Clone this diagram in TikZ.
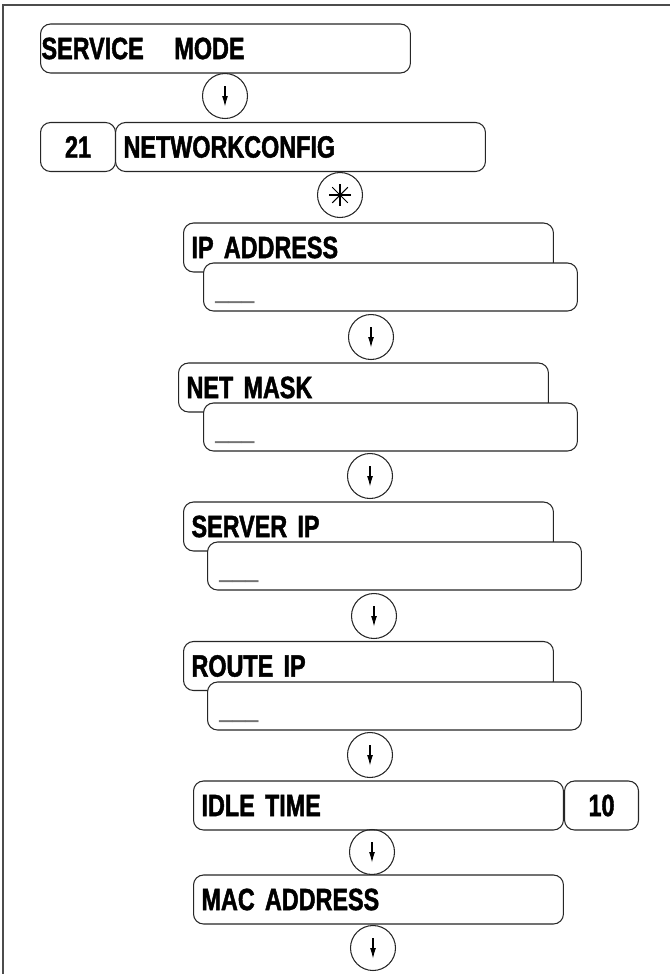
\documentclass[tikz,border=0pt]{standalone}
\usepackage{fontspec}
\setmainfont[FakeStretch=0.76,BoldFeatures={FakeBold=1.5}]{Liberation Sans}
\usetikzlibrary{arrows.meta}

\begin{document}
\begin{tikzpicture}[x=0.02cm,y=-0.02cm,
  every node/.style={font=\bfseries\fontsize{17.5pt}{20pt}\selectfont},
  title/.style={draw=black!85,line width=0.6pt,rounded corners=0.2cm,fill=white,anchor=west,align=left,
    inner xsep=0.16cm,inner ysep=0pt,text width=7.08cm,minimum height=0.98cm},
  valbox/.style={title,text width=7.16cm,minimum height=0.96cm},
  numbox/.style={draw=black!85,line width=0.6pt,rounded corners=0.2cm,fill=white,anchor=west,
    minimum width=1.5cm,minimum height=0.98cm,inner sep=0pt},
  key/.style={circle,draw=black!85,line width=0.6pt,minimum size=0.9cm,inner sep=0pt},
  down/.style={-{Latex[length=6pt,width=3.4pt]},line width=0.6pt},
  blank/.style={anchor=base west,inner sep=0pt,text=black!55,font=\fontsize{17.5pt}{20pt}\selectfont},
  frame/.style={draw=black!70,line width=1.1pt}]
 \useasboundingbox (0,0) rectangle (670,974);
 \draw[frame] (3,974) -- (3,5) -- (670,5);
 % service mode, menu 21
 \node[title,inner xsep=0.02cm,text width=7.36cm] (svc) at (40,48.5) {SERVICE\quad MODE};
 \node[key] (k1) at (225,96) {};
 \node[numbox] (n21) at (40,147) {21};
 \node[title] (net) at (115,147) {NETWORKCONFIG};
 \node[key] (ks) at (340,195) {};
 % ip address
 \node[title] (ipa) at (183,247.5) {IP ADDRESS};
 \node[valbox] (ipv) at (203,287) {};
 \node[blank] (ipu) at ([shift={(12,-14)}]ipv.south west) {\_\_\_};
 \node[key] (k3) at (371,337) {};
 % net mask
 \node[title] (msk) at (178,387.5) {NET MASK};
 \node[valbox] (mskv) at (203,427) {};
 \node[blank] (msku) at ([shift={(12,-14)}]mskv.south west) {\_\_\_};
 \node[key] (k4) at (370,476) {};
 % server ip
 \node[title] (srv) at (183,526.5) {SERVER IP};
 \node[valbox] (srvv) at (207,566) {};
 \node[blank] (srvu) at ([shift={(12,-14)}]srvv.south west) {\_\_\_};
 \node[key] (k5) at (374,616) {};
 % route ip
 \node[title] (rte) at (183,666) {ROUTE IP};
 \node[valbox] (rtev) at (207,706) {};
 \node[blank] (rteu) at ([shift={(12,-14)}]rtev.south west) {\_\_\_};
 \node[key] (k6) at (370,755) {};
 % idle time, mac address
 \node[title] (idl) at (193,805.5) {IDLE TIME};
 \node[numbox,minimum width=1.48cm] (n10) at (564,805.5) {10};
 \node[key] (k7) at (372,852) {};
 \node[title] (mac) at (193,899.5) {MAC ADDRESS};
 \node[key] (k8) at (373,948) {};
 \foreach \k in {k1,k3,k4,k5,k6,k7,k8}
   \draw[down] ([yshift=5.5pt]\k.center) -- ([yshift=-6pt]\k.center);
 \foreach \a in {0,45,90,135}
   \draw[line width=0.6pt] ([shift={(\a:0.22cm)}]ks.center) -- ([shift={(\a+180:0.22cm)}]ks.center);
\end{tikzpicture}
\end{document}
